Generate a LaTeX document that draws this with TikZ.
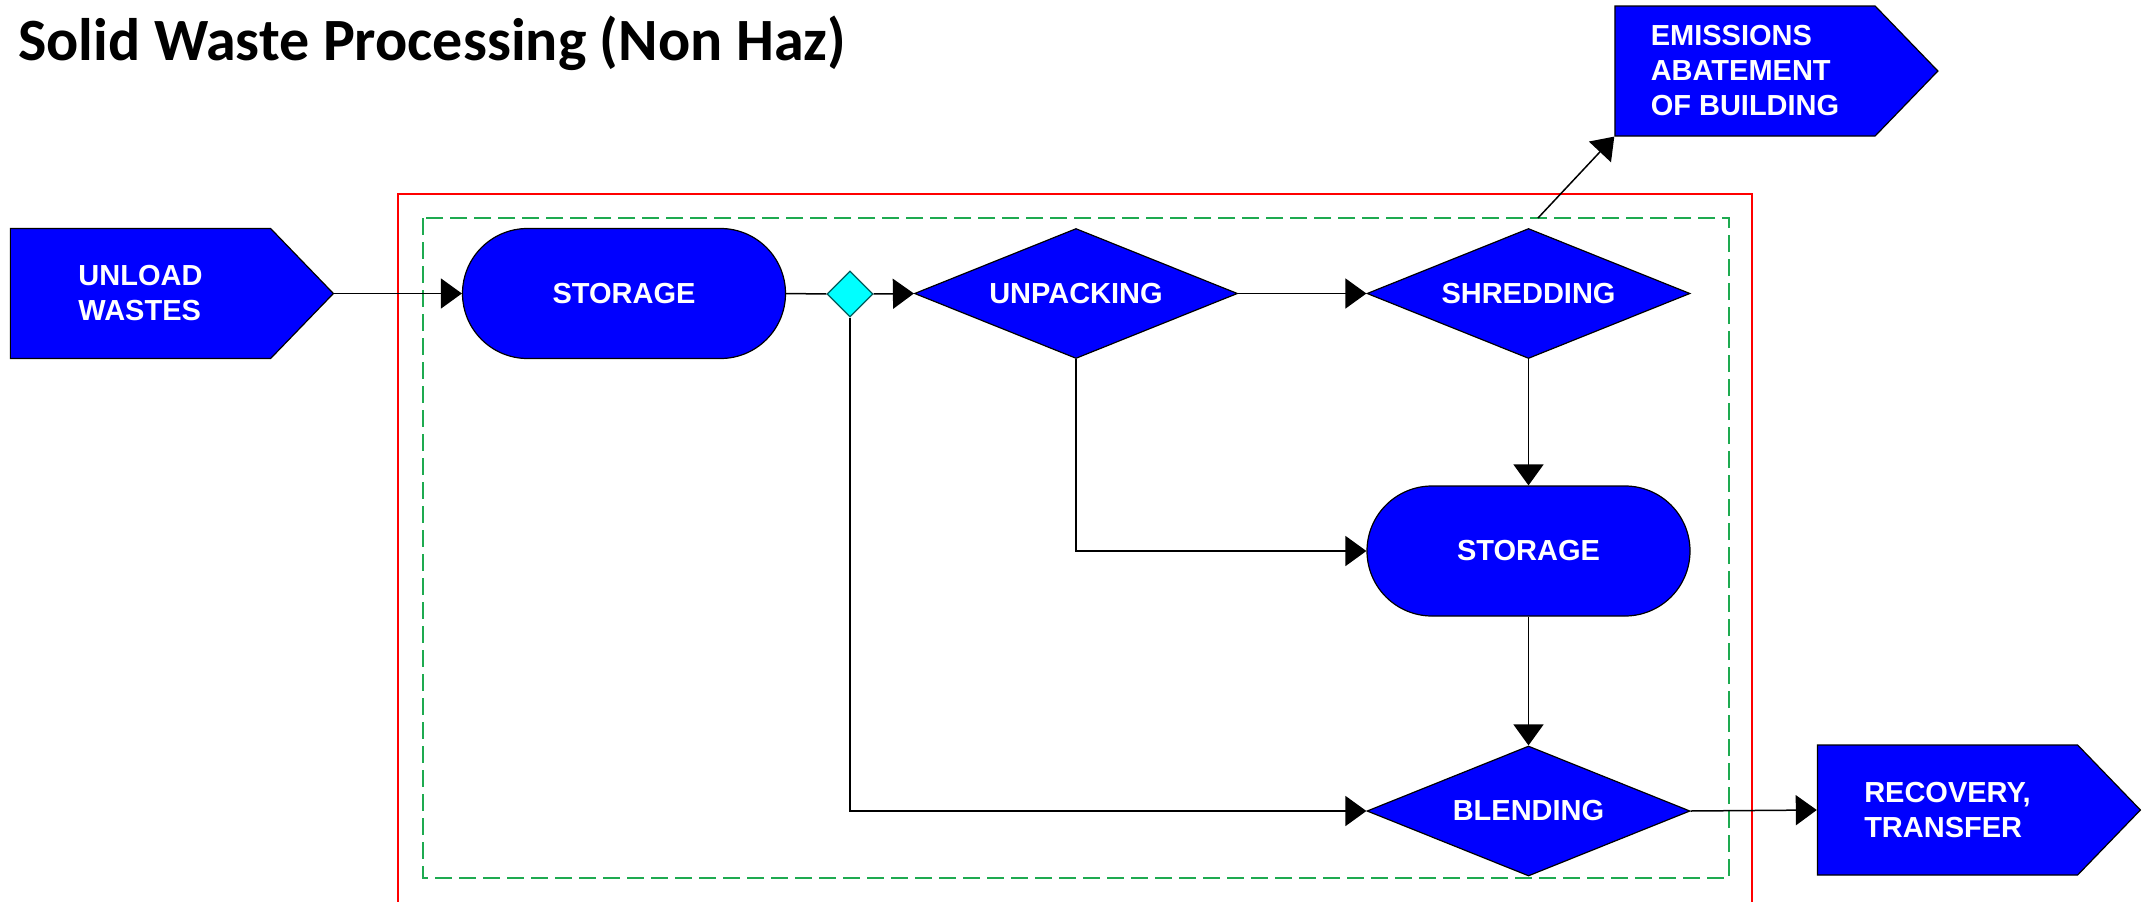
\documentclass[tikz,border=0pt]{standalone}
\usepackage{fontspec}
\setmainfont{Liberation Sans}
\newfontfamily\titlefont{Carlito}
\usetikzlibrary{shapes.geometric,shapes.misc,shapes.symbols,arrows.meta}
\definecolor{dashgreen}{RGB}{30,170,80}
\definecolor{edgeteal}{RGB}{0,90,90}
\definecolor{aqua}{RGB}{0,255,255}
\definecolor{pureblue}{RGB}{0,0,255}
\begin{document}
\begin{tikzpicture}[x=1pt,y=-1pt,
 box/.style={fill=pureblue, draw=black, line width=1.2pt, inner sep=0pt, text=white,
   font=\fontsize{29}{35}\selectfont\bfseries, align=left},
 sig/.style={box, shape=signal, signal to=east, signal pointer angle=92,
   minimum width=323pt, minimum height=130pt},
 stor/.style={box, rounded rectangle, minimum width=323pt, minimum height=130pt},
 dia/.style={box, diamond, aspect=2.48, minimum width=323pt, minimum height=130pt},
 conn/.style={draw=black, line width=1.5pt},
 arr/.style={conn, -{Triangle[length=21pt,width=30pt]}},
]
\useasboundingbox (0,0) rectangle (2145,902);

\node[anchor=base west, font=\titlefont\fontsize{60}{72}\selectfont\bfseries, inner sep=0pt]
  (title) at (18,60) {Solid Waste Processing (Non Haz)};

% frames
\draw[red, line width=1.5pt] (398,930) -- (398,194) -- (1752,194) -- (1752,930);
\draw[dashgreen, line width=1.5pt, dash pattern=on 17pt off 7pt] (423,218) rectangle (1729,878);

% nodes
\node[sig] (unload) at (140.5,293.5) {UNLOAD\\WASTES};
\node[stor] (st1) at (624,293.5) {STORAGE};
\node[draw=edgeteal, fill=aqua, diamond, line width=1.2pt, minimum width=46pt, minimum height=46pt, inner sep=0pt] (sw) at (850,294) {};
\node[dia] (unp) at (1076,293.5) {UNPACKING};
\node[dia] (shr) at (1528.5,293.5) {SHREDDING};
\node[stor] (st2) at (1528.5,551) {STORAGE};
\node[dia] (bld) at (1528.5,811) {BLENDING};
\node[sig] (rec) at (1947.5,810) {RECOVERY,\\TRANSFER};
\node[sig] (emi) at (1745,71) {EMISSIONS\\ABATEMENT\\OF BUILDING};
\coordinate (emst) at (1538,218);

% connectors
\draw[arr] (unload.east) -- (st1.west);
\draw[conn] (st1.east) -- (sw.west);
\draw[arr] (sw.east) -- (unp.west);
\draw[arr] (sw.south) |- (bld.west);
\draw[arr] (unp.east) -- (shr.west);
\draw[arr] (unp.south) |- (st2.west);
\draw[arr] (shr.south) -- (st2.north);
\draw[arr] (st2.south) -- (bld.north);
\draw[arr] (bld.east) -- (rec.west);
\draw[arr] (emst) -- (emi.west |- emi.south);
\end{tikzpicture}
\end{document}
